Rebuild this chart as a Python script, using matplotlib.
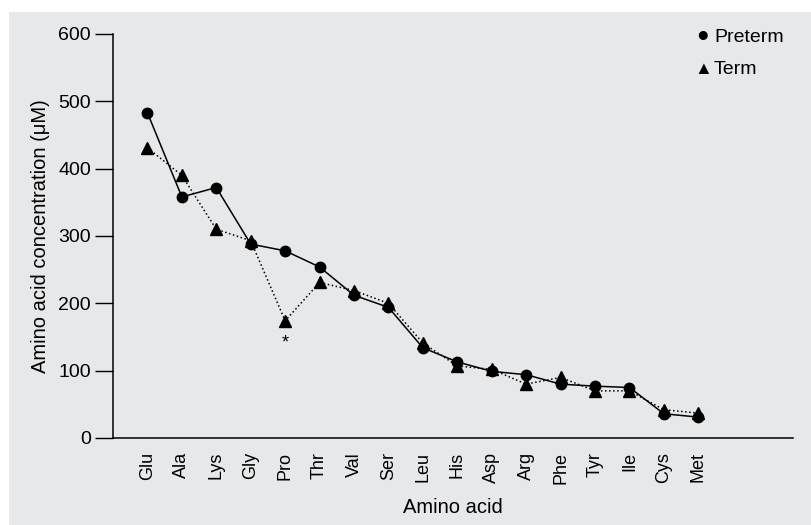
import matplotlib.pyplot as plt
from matplotlib.patches import Rectangle

amino_acids = ["Glu", "Ala", "Lys", "Gly", "Pro", "Thr", "Val", "Ser", "Leu",
               "His", "Asp", "Arg", "Phe", "Tyr", "Ile", "Cys", "Met"]
preterm = [483, 358, 372, 288, 278, 254, 212, 194, 134, 113, 99, 94, 80, 77, 75, 36, 31]
term = [431, 390, 310, 293, 174, 231, 219, 200, 141, 107, 102, 80, 90, 70, 70, 42, 37]

plt.rcParams['font.family'] = ['Liberation Sans', 'DejaVu Sans']

fig = plt.figure(figsize=(8.12, 5.25), dpi=100)
fig.patch.set_facecolor('white')
# grey panel behind the whole chart
fig.patches.append(Rectangle((9 / 812, 0), 1, 1 - 12 / 525, transform=fig.transFigure,
                             facecolor='#e7e8ea', edgecolor='none', zorder=-10))

ax = fig.add_axes([113 / 812, 1 - 438 / 525, 680 / 812, 404 / 525])
ax.set_facecolor('none')

x = list(range(len(amino_acids)))
ax.plot(x, preterm, color='black', linestyle='-', linewidth=1.1,
        marker='o', markersize=7.5, clip_on=False, zorder=3)
ax.plot(x, term, color='black', linestyle=':', linewidth=1.1,
        marker='^', markersize=8, clip_on=False, zorder=3)

# significance marker under Pro
ax.text(4, 141, '*', ha='center', va='center', fontsize=13)

ax.set_xlim(-1, 18.75)
ax.set_ylim(0, 600)
ax.set_yticks([0, 100, 200, 300, 400, 500, 600])
ax.set_xticks(x)
ax.set_xticklabels(amino_acids, rotation=90)
ax.tick_params(axis='x', length=0, pad=10, labelsize=13)
ax.tick_params(axis='y', length=13, width=1, direction='out', labelsize=14, pad=3)

for side in ['top', 'right']:
    ax.spines[side].set_visible(False)
for side in ['left', 'bottom']:
    ax.spines[side].set_linewidth(1.1)

ax.set_xlabel('Amino acid', fontsize=14.5, labelpad=10)
ax.set_ylabel('Amino acid concentration (\u03bcM)', fontsize=14.5, labelpad=6)

# legend drawn by hand, no frame
fig.text(703 / 812, 1 - 36 / 525, '\u25cf', ha='center', va='center', fontsize=15)
fig.text(714 / 812, 1 - 38 / 525, 'Preterm', ha='left', va='center', fontsize=14)
fig.text(703 / 812, 1 - 69 / 525, '\u25b2', ha='center', va='center', fontsize=13)
fig.text(714 / 812, 1 - 70 / 525, 'Term', ha='left', va='center', fontsize=14)

fig.savefig('out.png', dpi=100)
